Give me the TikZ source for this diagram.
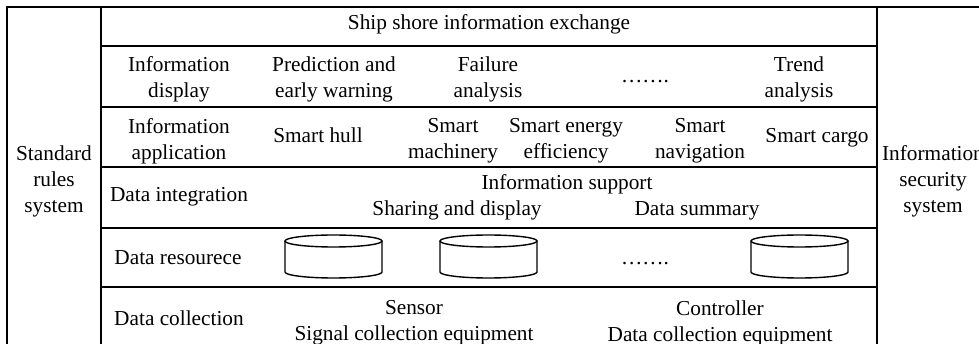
\documentclass[tikz,border=0pt]{standalone}
\usepackage{fontspec}
\setmainfont{Liberation Serif}
\tikzset{
    rule/.style={line width=2.4pt},
    lbl/.style={font=\fontsize{21.3}{26}\selectfont, align=center, inner sep=0pt},
    dbline/.style={line width=1.4pt}
}
\begin{document}
\begin{tikzpicture}[x=1pt,y=-1pt]
    \useasboundingbox (0,0) rectangle (979,344);
    \draw[rule] (7,350) -- (7,7) -- (985,7);
    \draw[rule] (101,7) -- (101,350);
    \draw[rule] (877,7) -- (877,350);
    \foreach \y in {46,107,167,228,287}
        \draw[rule] (101,\y) -- (877,\y);

    \node[lbl] (std) at (54,181) {Standard\\rules\\system};
    \node[lbl] (sec) at (933,181) {Information\\security\\system};

    \node[lbl, anchor=base] (exch) at (489,30) {Ship shore information exchange};

    \node[lbl] (disp) at (179,79) {Information\\display};
    \node[lbl] (warn) at (334,79) {Prediction and\\early warning};
    \node[lbl] (fail) at (488,79) {Failure\\analysis};
    \node[lbl, anchor=base] (dots1) at (645,83) {…….};
    \node[lbl] (trend) at (799,79) {Trend\\analysis};

    \node[lbl] (app) at (179,141) {Information\\application};
    \node[lbl, anchor=base] (hull) at (318,143) {Smart hull};
    \node[lbl] (mach) at (453,141) {Smart\\machinery};
    \node[lbl] (ener) at (566,141) {Smart energy\\efficiency};
    \node[lbl] (navi) at (700,141) {Smart\\navigation};
    \node[lbl, anchor=base] (cargo) at (817,143) {Smart cargo};

    \node[lbl, anchor=base] (integ) at (179,202) {Data integration};
    \node[lbl, anchor=base] (supp) at (567,190) {Information support};
    \node[lbl, anchor=base] (share) at (457,216) {Sharing and display};
    \node[lbl, anchor=base] (summ) at (697,216) {Data summary};

    \node[lbl, anchor=base] (res) at (178,265) {Data resourece};
    \node[lbl, anchor=base] (dots2) at (645,265) {…….};
    \foreach \x/\n in {333.5/db1, 488.5/db2, 799.5/db3} {
        \coordinate (\n) at (\x,256.5);
        \draw[dbline] (\x,241) ellipse [x radius=48.5pt, y radius=6pt];
        \draw[dbline] (\x-48.5,241) -- (\x-48.5,272)
            arc [start angle=180, end angle=360, x radius=48.5pt, y radius=6pt]
            -- (\x+48.5,241);
    }

    \node[lbl, anchor=base] (coll) at (179,325) {Data collection};
    \node[lbl] (sens) at (414,323) {Sensor\\Signal collection equipment};
    \node[lbl] (ctrl) at (720,323) {Controller\\Data collection equipment};
\end{tikzpicture}
\end{document}
